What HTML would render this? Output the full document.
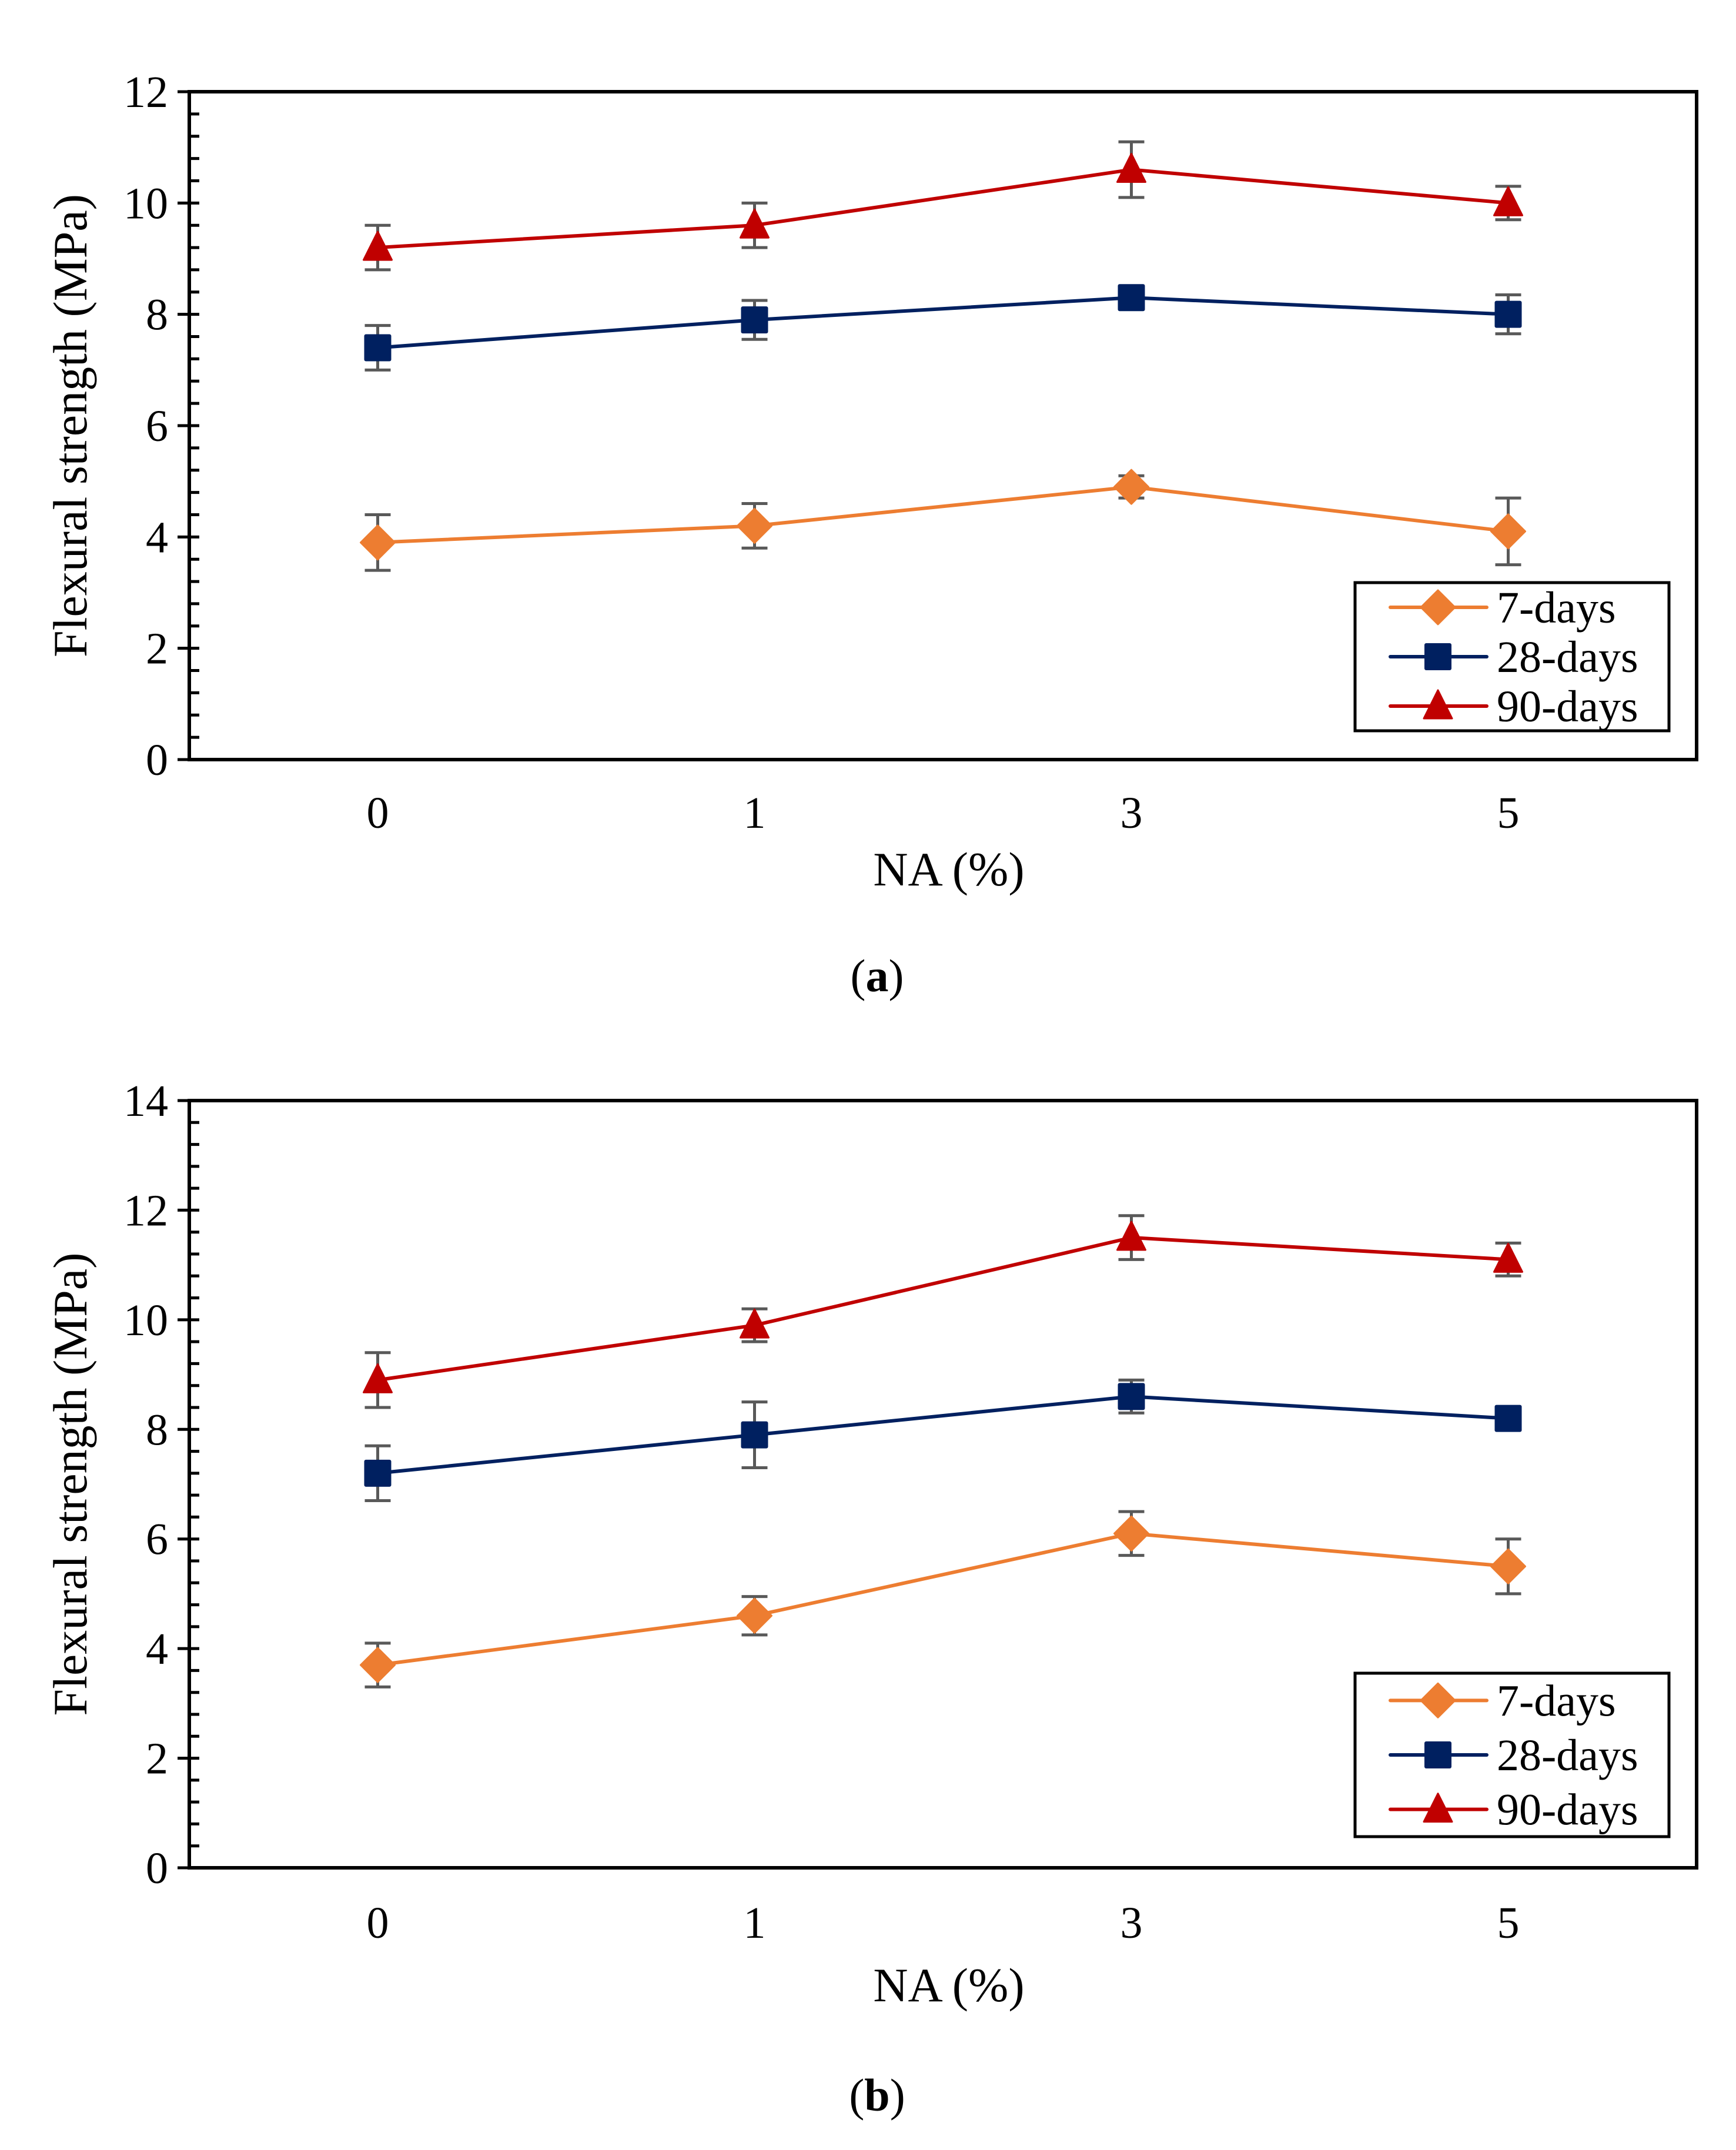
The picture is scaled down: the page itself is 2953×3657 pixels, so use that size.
<!DOCTYPE html>
<html><head><meta charset="utf-8"><style>
html,body{margin:0;padding:0;background:#fff}
svg{display:block;font-family:"Liberation Serif",serif}
</style></head><body>
<svg id="fig" width="2953" height="3657" viewBox="0 0 2953 3657" xmlns="http://www.w3.org/2000/svg"></svg>
<script>
const categories = ["0","1","3","5"];
const seriesNames = ["7-days","28-days","90-days"];
const aVals7 = [3.9,4.2,4.9,4.1];
const aErr7 = [0.5,0.4,0.2,0.6];
const aVals28 = [7.4,7.9,8.3,8.0];
const aErr28 = [0.4,0.35,0.1,0.35];
const aVals90 = [9.2,9.6,10.6,10.0];
const aErr90 = [0.4,0.4,0.5,0.3];
const bVals7 = [3.7,4.6,6.1,5.5];
const bErr7 = [0.4,0.35,0.4,0.5];
const bVals28 = [7.2,7.9,8.6,8.2];
const bErr28 = [0.5,0.6,0.3,0.1];
const bVals90 = [8.9,9.9,11.5,11.1];
const bErr90 = [0.5,0.3,0.4,0.3];
const aTicks = [0,2,4,6,8,10,12];
const bTicks = [0,2,4,6,8,10,12,14];

const NS="http://www.w3.org/2000/svg";
const svg=document.getElementById('fig');
const colors=["#ED7D31","#002060","#C00000"];
const markers=["diamond","square","triangle"];
function mk(tag,attrs,parent){const e=document.createElementNS(NS,tag);for(const k in attrs)e.setAttribute(k,attrs[k]);(parent||svg).appendChild(e);return e;}
function marker(g,type,x,y,c){
  if(type==="diamond") return mk('polygon',{points:`${x},${y-29} ${x+29},${y} ${x},${y+29} ${x-29},${y}`,fill:c,'stroke':c,'stroke-width':3,'stroke-linejoin':'round'},g);
  if(type==="square") return mk('rect',{x:x-23,y:y-23,width:46,height:46,rx:3,fill:c},g);
  return mk('polygon',{points:`${x},${y-27} ${x+24},${y+21} ${x-24},${y+21}`,fill:c,stroke:c,'stroke-width':3,'stroke-linejoin':'round'},g);
}
function chart(name,top,bottom,ymax,ticks,vals,errs,legendY,xlabY,naY,capY,cap){
  const L=322,R=2886;
  const g=mk('g',{});
  
  
  const ys=v=>bottom-(v/ymax)*(bottom-top);
  const band=(R-L)/categories.length;
  const xs=i=>L+band*(i+0.5);
  for(let v=0;v<=ymax+1e-6;v+=0.4){mk('line',{x1:L,x2:L+17,y1:ys(v),y2:ys(v),stroke:'#000','stroke-width':5},g);}
  ticks.forEach(t=>{
    mk('line',{x1:L-20,x2:L,y1:ys(t),y2:ys(t),stroke:'#000','stroke-width':5},g);
    const tx=mk('text',{x:L-36,y:ys(t)+26,'text-anchor':'end','font-size':76,fill:'#000'},g);
    
    
    tx.textContent=t;
  });
  const frame=mk('rect',{x:L,y:top,width:R-L,height:bottom-top,fill:'none',stroke:'#000','stroke-width':6},g);
  
  
  categories.forEach((c,i)=>{
    const t=mk('text',{x:xs(i),y:xlabY,'text-anchor':'middle','font-size':76},g);
    
    
    t.textContent=c;
  });
  const xt=mk('text',{x:(L+R)/2+10,y:naY,'text-anchor':'middle','font-size':82},g);
  
  
  xt.textContent="NA (%)";
  const cy=(top+bottom)/2;
  const yt=mk('text',{x:0,y:0,transform:`translate(128,${cy}) rotate(-90)`,'text-anchor':'middle','font-size':82,'dominant-baseline':'middle'},g);
  
  
  yt.textContent="Flexural strength (MPa)";
  vals.forEach((arr,s)=>{
    const sg=mk('g',{},g);
    
    
    arr.forEach((v,i)=>{
      const e=errs[s][i];
      const eg=mk('g',{stroke:'#595959','stroke-width':5},sg);
      
      
      mk('line',{x1:xs(i),x2:xs(i),y1:ys(v-e),y2:ys(v+e)},eg);
      mk('line',{x1:xs(i)-22,x2:xs(i)+22,y1:ys(v-e),y2:ys(v-e)},eg);
      mk('line',{x1:xs(i)-22,x2:xs(i)+22,y1:ys(v+e),y2:ys(v+e)},eg);
    });
    const pl=mk('polyline',{points:arr.map((v,i)=>xs(i)+','+ys(v)).join(' '),fill:'none',stroke:colors[s],'stroke-width':6,'stroke-linejoin':'round'},sg);
    
    
    arr.forEach((v,i)=>{
      const m=marker(sg,markers[s],xs(i),ys(v),colors[s]);
      
      
    });
  });
  const lg=mk('g',{},g);
  
  
  const lh=legendY[1]-legendY[0];
  mk('rect',{x:2305,y:legendY[0],width:534,height:lh,fill:'#fff',stroke:'#000','stroke-width':5},lg);
  seriesNames.forEach((n,s)=>{
    const ry=legendY[0]+lh*(s+0.5)/3;
    const eg=mk('g',{},lg);
    
    
    mk('line',{x1:2365,x2:2529,y1:ry,y2:ry,stroke:colors[s],'stroke-width':6,'stroke-linecap':'round'},eg);
    marker(eg,markers[s],2446,ry,colors[s]);
    const t=mk('text',{x:2546,y:ry+26,'font-size':76},eg);
    t.textContent=n;
  });
  const c=mk('text',{x:1492,y:capY,'text-anchor':'middle','font-size':78},g);
  
  
  c.innerHTML='(<tspan font-weight="bold">'+cap+'</tspan>)';
}
chart('chart-a',156,1292,12,aTicks,[aVals7,aVals28,aVals90],[aErr7,aErr28,aErr90],[991,1243],1408,1506,1686,'a');
chart('chart-b',1872,3177,14,bTicks,[bVals7,bVals28,bVals90],[bErr7,bErr28,bErr90],[2846,3124],3296,3404,3590,'b');
</script>
</body></html>
